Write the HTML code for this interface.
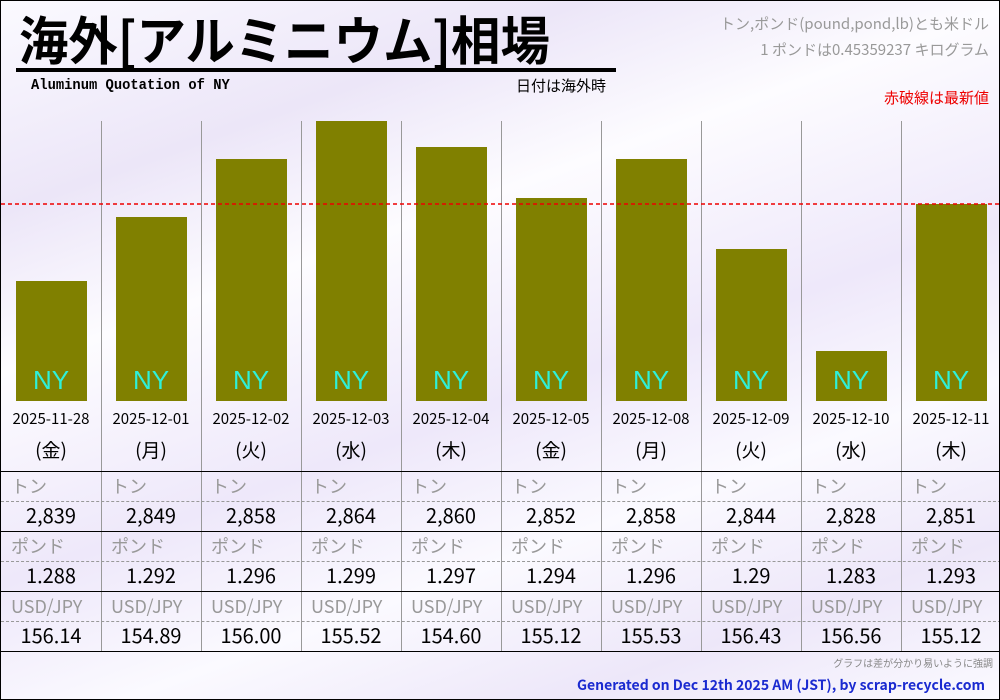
<!DOCTYPE html>
<html><head><meta charset="utf-8"><style>
*{margin:0;padding:0;box-sizing:border-box}
body{width:1000px;height:700px;overflow:hidden;background:#fff}
#c{position:relative;width:1000px;height:700px;border:1px solid #000;background:linear-gradient(160deg,#fbfaff 0%,#ece6f8 20%,#fdfcff 35%,#eee8fa 55%,#fbfaff 70%,#ede7f9 85%,#fbfaff 100%);font-family:"Noto Sans CJK JP","Liberation Sans",sans-serif;overflow:hidden}
.a{position:absolute;white-space:nowrap}
.vl{position:absolute;top:120px;height:530px;width:1px;background:#999}
.bar{position:absolute;width:71px;background:#808000}
.ny{position:absolute;top:364px;width:100px;text-align:center;color:#2ef0d8;font-size:26px;font-family:"Liberation Sans",sans-serif}
.hl{position:absolute;left:0;width:1000px;height:0;border-top:1px solid #000}
.dl{position:absolute;left:0;width:1000px;height:0;border-top:1px dashed #999}
.cell{position:absolute;width:100px;text-align:center;font-size:20px;color:#000;line-height:26px}
.lab{position:absolute;width:100px;padding-left:10px;font-size:18px;color:#999;line-height:24px}
</style></head><body><div id="c">
<div class="a" style="left:18px;top:6px;font-size:52px;font-weight:bold;line-height:62px;transform:scaleX(0.95);transform-origin:left">海外[アルミニウム]相場</div>
<div class="a" style="left:15px;top:67px;width:600px;height:4px;background:#000"></div>
<div class="a" style="left:30px;top:76px;font-size:15px;font-weight:bold;font-family:'Liberation Mono',monospace;transform:scaleX(0.92);transform-origin:left">Aluminum Quotation of NY</div>
<div class="a" style="left:515px;top:74px;font-size:15px">日付は海外時</div>
<div class="a" style="right:10px;top:10px;font-size:15px;color:#999;text-align:right;line-height:26px">トン,ポンド(pound,pond,lb)とも米ドル<br>1 ポンドは0.45359237 キログラム</div>
<div class="a" style="right:10px;top:86px;font-size:15px;color:#e00">赤破線は最新値</div>
<div id="g"></div>
<svg class="a" style="left:0;top:198px" width="1000" height="10"><line x1="0" y1="5" x2="1000" y2="5" stroke="#e00" stroke-width="1.5" stroke-dasharray="4,3"/></svg>
<div class="hl" style="top:470px"></div><div class="dl" style="top:500px"></div>
<div class="hl" style="top:530px"></div><div class="dl" style="top:560px"></div>
<div class="hl" style="top:590px"></div><div class="dl" style="top:620px"></div>
<div class="hl" style="top:650px"></div>
<div class="a" style="right:6px;top:654px;font-size:10px;color:#888">グラフは差が分かり易いように強調</div>
<div class="a" style="right:14px;top:674px;font-size:14px;font-weight:bold;color:#1a2ad0">Generated on Dec 12th 2025 AM (JST), by scrap-recycle.com</div>
</div>
<script>
var d=["2025-11-28","2025-12-01","2025-12-02","2025-12-03","2025-12-04","2025-12-05","2025-12-08","2025-12-09","2025-12-10","2025-12-11"],
w=["金","月","火","水","木","金","月","火","水","木"],
t=[280,216,158,120,146,197,158,248,350,203],
ton=["2,839","2,849","2,858","2,864","2,860","2,852","2,858","2,844","2,828","2,851"],
lb=["1.288","1.292","1.296","1.299","1.297","1.294","1.296","1.29","1.283","1.293"],
fx=["156.14","154.89","156.00","155.52","154.60","155.12","155.53","156.43","156.56","155.12"],h="";
for(var i=0;i<10;i++){var x=i*100;
if(i>0)h+='<div class="vl" style="left:'+x+'px"></div>';
h+='<div class="bar" style="left:'+(x+15)+'px;top:'+t[i]+'px;height:'+(400-t[i])+'px"></div>';
h+='<div class="ny" style="left:'+x+'px">NY</div>';
h+='<div class="cell" style="left:'+x+'px;top:405px;font-size:15px">'+d[i]+'</div>';
h+='<div class="cell" style="left:'+x+'px;top:435px;font-size:19px;line-height:28px">('+w[i]+')</div>';
h+='<div class="lab" style="left:'+x+'px;top:473px">トン</div>';
h+='<div class="cell" style="left:'+x+'px;top:501px">'+ton[i]+'</div>';
h+='<div class="lab" style="left:'+x+'px;top:533px">ポンド</div>';
h+='<div class="cell" style="left:'+x+'px;top:561px">'+lb[i]+'</div>';
h+='<div class="lab" style="left:'+x+'px;top:593px">USD/JPY</div>';
h+='<div class="cell" style="left:'+x+'px;top:621px">'+fx[i]+'</div>';}
document.getElementById("g").innerHTML=h;
</script></body></html>
